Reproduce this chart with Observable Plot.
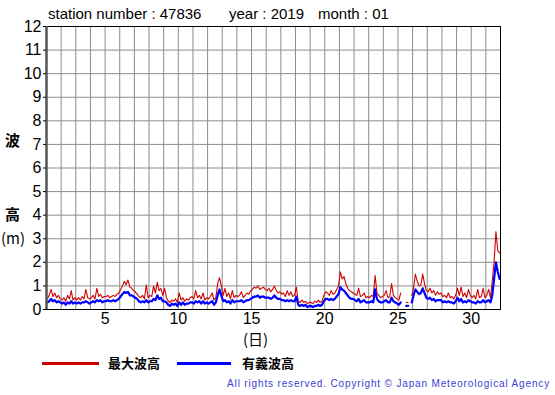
<!DOCTYPE html>
<html>
<head>
<meta charset="utf-8">
<script src="https://cdn.jsdelivr.net/npm/d3@7"></script>
<script src="https://cdn.jsdelivr.net/npm/@observablehq/plot@0.6"></script>
<style>
  body { margin: 0; background: white; }
  #wrap { position: relative; width: 555px; height: 395px; overflow: hidden; background: white; font-family: "Liberation Sans", Arial, sans-serif; }
  #chart { position: absolute; left: 0; top: 0; }
  .t { position: absolute; white-space: nowrap; color: #000; }
  .cjk { font-family: "Noto Sans CJK JP", sans-serif; font-weight: 700; }
  .leg { position: absolute; height: 3px; }
</style>
</head>
<body>
<div id="wrap">
  <div id="chart"></div>
  <div class="t" style="left:48px; top:5px; font-size:15px;">station number : 47836</div>
  <div class="t" style="left:229px; top:5px; font-size:15px;">year : 2019</div>
  <div class="t" style="left:318px; top:5px; font-size:15px;">month : 01</div>
  <div class="t cjk" style="left:5px; top:129px; font-size:15px;">波</div>
  <div class="t cjk" style="left:5px; top:203px; font-size:15px;">高</div>
  <div class="t cjk" style="left:1px; top:227px; font-size:15px; font-weight:400;">(m)</div>
  <div class="t cjk" style="left:243px; top:331px; font-size:15px; line-height:15px; font-weight:400;">(日)</div>
  <div class="leg" style="left:42px; top:362px; width:57px; background:#cc0000;"></div>
  <div class="t cjk" style="left:108px; top:353px; font-size:13px;">最大波高</div>
  <div class="leg" style="left:177px; top:362px; width:54px; background:#0000ff;"></div>
  <div class="t cjk" style="left:242px; top:353px; font-size:13px;">有義波高</div>
  <div class="t" style="right:5px; top:378px; font-size:10px; letter-spacing:0.85px; color:#4040d0;">All rights reserved. Copyright © Japan Meteorological Agency</div>
</div>
<script>
// Tick labels
const xTicks = [5, 10, 15, 20, 25, 30];
const yTicks = [0, 1, 2, 3, 4, 5, 6, 7, 8, 9, 10, 11, 12];

// 3-hourly values, 8 per day (00,03,06,09,12,15,18,21 h), days 1..31
const maxWave = [
  0.45,0.6,0.85,0.55,0.7,0.5,0.6,0.45,
  0.4,0.5,0.35,0.6,0.45,0.8,0.4,0.5,
  0.4,0.5,0.4,0.55,0.45,0.85,0.5,0.45,
  0.5,0.6,0.45,0.9,0.55,0.65,0.5,0.55,
  0.55,0.6,0.5,0.55,0.6,0.55,0.65,0.7,
  0.85,1.0,1.2,1.05,1.25,0.95,0.9,0.8,
  0.75,0.65,0.55,0.5,0.6,0.45,1.05,0.5,
  0.6,0.55,1.0,0.7,1.15,0.8,0.9,0.6,
  0.9,0.5,0.35,0.3,0.4,0.35,0.45,0.3,
  0.7,0.4,0.5,0.35,0.45,0.4,0.5,0.55,
  0.45,0.8,0.5,0.6,0.45,0.7,0.4,0.5,
  0.45,0.55,0.7,0.4,0.5,1.1,1.35,1.0,
  0.6,0.9,0.55,0.7,0.45,0.8,0.5,0.6,
  0.55,0.6,0.75,0.5,0.6,0.7,0.65,0.8,
  0.85,0.95,0.9,1.0,0.85,0.9,0.95,0.85,
  0.8,0.9,0.75,0.85,1.0,0.8,0.7,0.75,
  0.65,0.7,0.55,0.8,0.6,0.75,0.55,0.6,
  0.95,0.35,0.3,0.4,0.3,0.35,0.25,0.3,
  0.3,0.25,0.35,0.3,0.4,0.3,0.35,0.6,
  0.75,0.7,0.6,0.8,0.65,0.7,0.85,1.0,
  1.6,1.3,1.4,1.1,0.9,0.8,0.75,0.7,
  0.65,0.6,0.9,0.55,0.6,0.7,0.5,0.55,
  0.5,0.6,0.55,1.45,0.7,0.6,0.5,0.55,
  0.6,0.8,0.5,0.55,1.1,0.6,0.5,0.45,
  0.4,0.7,null,null,0.3,0.3,null,0.6,
  0.9,1.5,1.2,1.0,1.05,1.5,1.1,0.8,
  0.75,0.9,0.7,0.8,0.6,0.75,0.65,0.7,
  0.55,0.6,0.5,0.7,0.5,0.55,0.45,0.6,
  0.9,0.6,0.95,0.55,0.7,0.5,0.85,0.6,
  0.5,0.6,0.45,0.85,0.5,0.55,0.9,0.5,
  0.6,0.85,0.5,1.2,2.0,3.3,2.5,2.4
];
const sigWave = [
  0.3,0.35,0.45,0.35,0.4,0.3,0.35,0.3,
  0.25,0.3,0.2,0.3,0.25,0.35,0.25,0.3,
  0.25,0.3,0.25,0.3,0.3,0.35,0.3,0.25,
  0.3,0.35,0.3,0.4,0.35,0.4,0.3,0.35,
  0.35,0.4,0.35,0.35,0.4,0.35,0.4,0.45,
  0.55,0.65,0.75,0.7,0.75,0.6,0.6,0.55,
  0.5,0.45,0.35,0.3,0.35,0.3,0.4,0.3,
  0.35,0.35,0.45,0.4,0.6,0.45,0.5,0.35,
  0.35,0.3,0.2,0.15,0.25,0.2,0.25,0.15,
  0.3,0.2,0.3,0.2,0.25,0.25,0.3,0.3,
  0.25,0.35,0.3,0.35,0.25,0.35,0.25,0.3,
  0.25,0.3,0.35,0.2,0.3,0.6,0.85,0.6,
  0.35,0.4,0.3,0.35,0.25,0.4,0.3,0.35,
  0.35,0.35,0.4,0.3,0.35,0.4,0.4,0.45,
  0.5,0.55,0.55,0.6,0.5,0.55,0.55,0.5,
  0.5,0.5,0.45,0.5,0.6,0.5,0.45,0.45,
  0.4,0.4,0.35,0.4,0.35,0.4,0.35,0.35,
  0.55,0.2,0.15,0.2,0.15,0.2,0.1,0.15,
  0.15,0.1,0.15,0.15,0.2,0.15,0.2,0.35,
  0.45,0.45,0.4,0.45,0.4,0.45,0.55,0.65,
  0.95,0.85,0.8,0.7,0.6,0.5,0.45,0.45,
  0.4,0.35,0.45,0.3,0.35,0.4,0.3,0.3,
  0.3,0.35,0.3,0.85,0.45,0.35,0.3,0.3,
  0.35,0.4,0.3,0.3,0.5,0.35,0.3,0.25,
  0.2,0.3,null,null,0.15,0.15,null,0.3,
  0.6,0.85,0.75,0.65,0.7,0.9,0.7,0.5,
  0.45,0.5,0.4,0.45,0.35,0.4,0.4,0.4,
  0.3,0.35,0.3,0.35,0.3,0.3,0.25,0.35,
  0.5,0.35,0.45,0.3,0.35,0.3,0.4,0.35,
  0.3,0.3,0.25,0.35,0.3,0.3,0.4,0.3,
  0.35,0.4,0.3,0.6,1.3,2.0,1.6,1.3
];

const rows = maxWave.map((v, i) => ({
  t: 1 + (i + 0.5) / 8,
  max: v == null ? NaN : v,
  sig: sigWave[i] == null ? NaN : sigWave[i]
}));

const chart = Plot.plot({
  width: 555,
  height: 340,
  marginLeft: 46,
  marginRight: 55,
  marginTop: 26,
  marginBottom: 31,
  style: { fontFamily: "Liberation Sans, Arial, sans-serif", background: "white", color: "#000" },
  x: { domain: [1, 32], label: null },
  y: { domain: [0, 12], label: null },
  marks: [
    Plot.gridX(d3.range(2, 32), { stroke: "#8c8c8c", strokeOpacity: 1, strokeWidth: 1 }),
    Plot.gridY(d3.range(1, 12), { stroke: "#8c8c8c", strokeOpacity: 1, strokeWidth: 1 }),
    Plot.lineY(rows, { x: "t", y: "max", stroke: "#d00000", strokeWidth: 1.1, curve: "linear" }),
    Plot.lineY(rows, { x: "t", y: "sig", stroke: "#0000ff", strokeWidth: 2.2, curve: "linear" }),
    Plot.frame({ stroke: "#000", strokeWidth: 1 }),
    Plot.ruleX([1], { stroke: "#555", strokeWidth: 2.5 }),
    Plot.axisX(xTicks, { tickSize: 0, tickPadding: 3, fontSize: 16, label: null }),
    Plot.axisY(yTicks, { tickSize: 3, tickPadding: 2, fontSize: 16, label: null })
  ]
});
document.getElementById("chart").appendChild(chart);
</script>
</body>
</html>
